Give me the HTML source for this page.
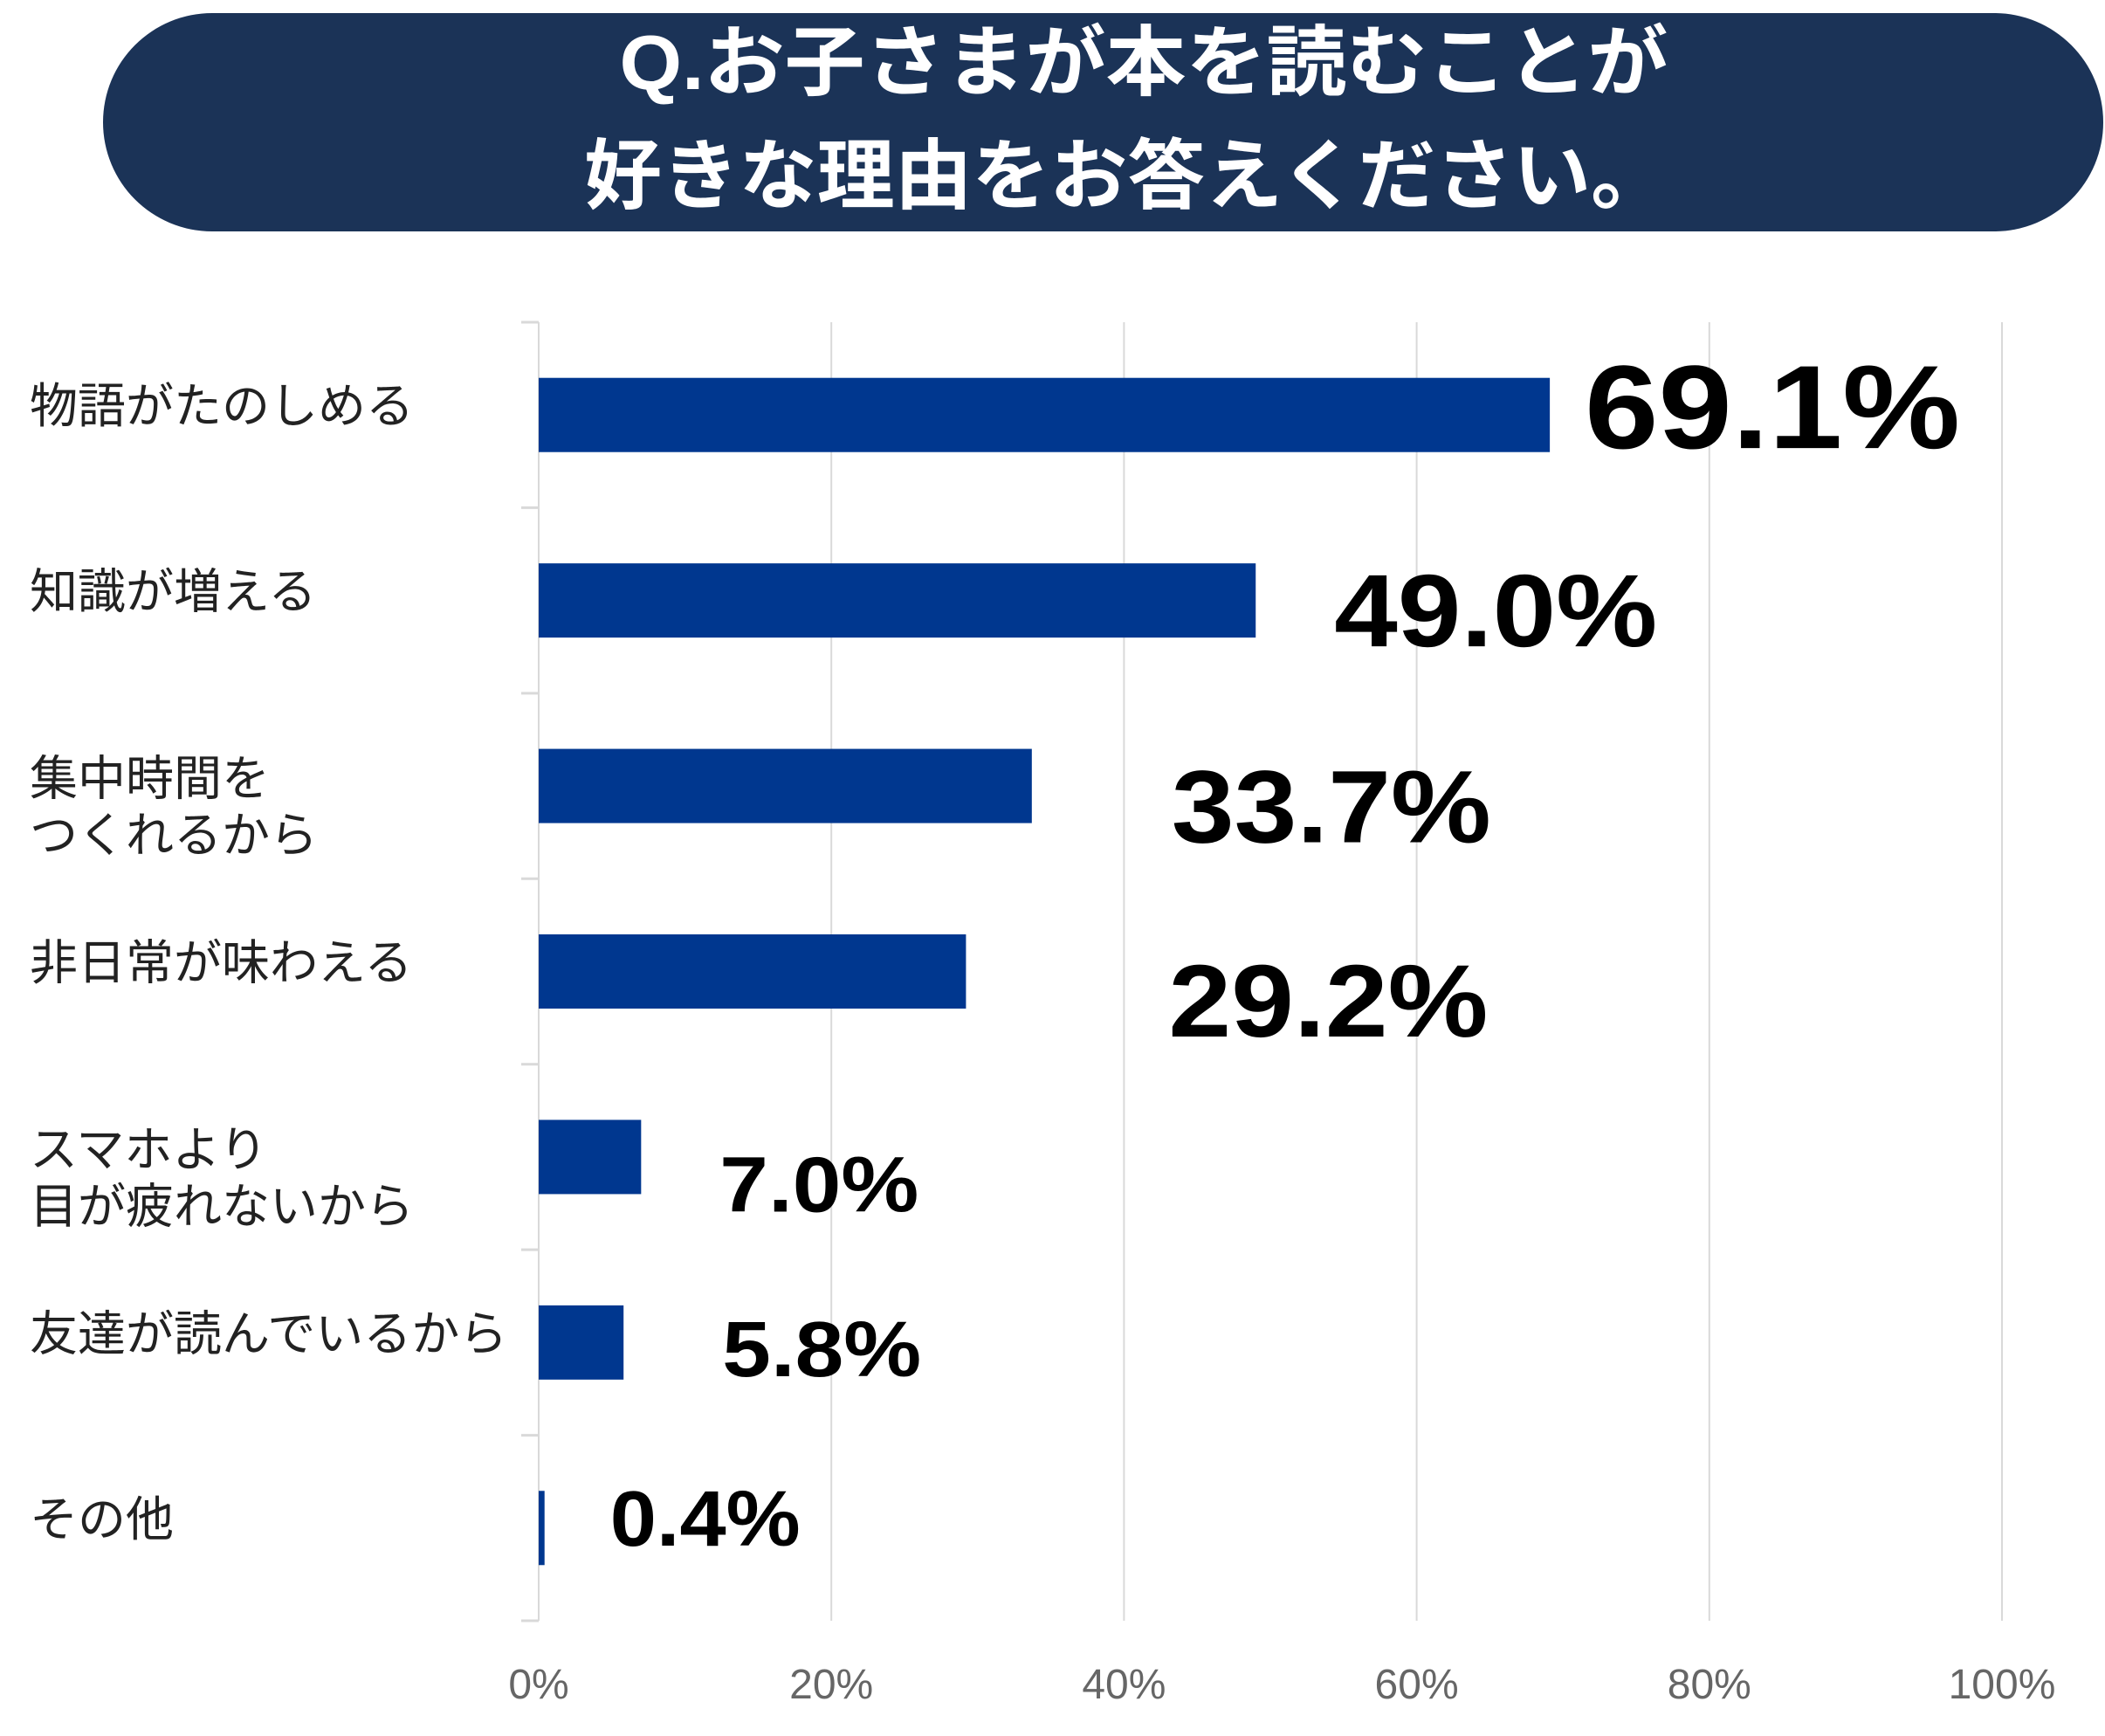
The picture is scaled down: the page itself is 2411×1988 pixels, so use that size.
<!DOCTYPE html>
<html><head><meta charset="utf-8"><style>
html,body{margin:0;padding:0;background:#fff;}
svg{display:block;}
</style></head><body>
<svg id="chart" width="2411" height="1988" viewBox="0 0 2411 1988" xmlns="http://www.w3.org/2000/svg">
<g>
<rect x="118" y="15" width="2291" height="250" rx="125" fill="#1b3357"/>
<text x="1310" y="102" text-anchor="middle" textLength="1201" lengthAdjust="spacingAndGlyphs" font-family="'Liberation Sans','Noto Sans CJK JP',sans-serif" font-weight="bold" font-size="88" fill="#fff">Q.お子さまが本を読むことが</text>
<text x="1290" y="232" text-anchor="middle" textLength="1242" lengthAdjust="spacingAndGlyphs" font-family="'Liberation Sans','Noto Sans CJK JP',sans-serif" font-weight="bold" font-size="88" fill="#fff">好きな理由をお答えください。</text>
</g>
<g id="grid"></g><g id="bars"></g><g id="labels"></g>
</svg>
<script>
const categories = [["物語がたのしめる"],["知識が増える"],["集中時間を","つくれるから"],["非日常が味わえる"],["スマホより","目が疲れないから"],["友達が読んでいるから"],["その他"]];
const values = [69.1, 49.0, 33.7, 29.2, 7.0, 5.8, 0.4];
const valueLabels = ["69.1%","49.0%","33.7%","29.2%","7.0%","5.8%","0.4%"];
const ticks = [0,20,40,60,80,100];
const tickLabels = ["0%","20%","40%","60%","80%","100%"];

const NS="http://www.w3.org/2000/svg";
const X0=617, X1=2293, TOP=369, BOT=1856;
const band=(BOT-TOP)/categories.length, barH=85;
const xs=v=>X0+(X1-X0)*v/100;
const yc=i=>TOP+band*(i+0.5);
// label layout (styling, not data)
const labelDX=[40,90,160,232,90,113,75];
const labelSize=[136,118,118,118,90,90,90];
const labelDY=[-11,10,22,32,30,6,-12];
const labelW=[430,370,366,366,228,228,218];
function mk(t,a,p){const e=document.createElementNS(NS,t);for(const k in a)e.setAttribute(k,a[k]);p.appendChild(e);return e;}
const grid=document.getElementById('grid'),bars=document.getElementById('bars'),labels=document.getElementById('labels');
ticks.forEach((t,i)=>{
  const l=mk('line',{x1:xs(t),x2:xs(t),y1:TOP,y2:BOT,stroke:'#d9d9d9','stroke-width':2},grid);
  
  
  const tx=mk('text',{x:xs(t),y:1945,'text-anchor':'middle','font-family':"'Liberation Sans',sans-serif",'font-size':48,fill:'#666'},grid);
  tx.textContent=tickLabels[i];
  
  
});
for(let i=0;i<=categories.length;i++){
  const y=TOP+band*i;
  const tk=mk('line',{x1:597,x2:617,y1:y,y2:y,stroke:'#d9d9d9','stroke-width':3},grid);
  
  
}
values.forEach((v,i)=>{
  const r=mk('rect',{x:X0,y:yc(i)-barH/2,width:Math.max(xs(v)-X0,2),height:barH,fill:'#00378f'},bars);
  
  
  const t=mk('text',{x:xs(v)+labelDX[i],y:yc(i)+labelDY[i]+labelSize[i]*0.36,'font-family':"'Liberation Sans',sans-serif",'font-weight':'bold','font-size':labelSize[i],fill:'#000',textLength:labelW[i],lengthAdjust:'spacingAndGlyphs'},labels);
  t.textContent=valueLabels[i];
  
  
  const lines=categories[i];
  lines.forEach((s,j)=>{
    const base = lines.length>1 ? 43 : 9;
    const yy=yc(i)+(j-(lines.length-1)/2)*65+base;
    const c=mk('text',{x:34,y:yy,'font-family':"'Liberation Sans','Noto Sans CJK JP',sans-serif",'font-size':55,fill:'#222'},labels);
    c.textContent=s;
    
    
  });
});
</script>
</body></html>
